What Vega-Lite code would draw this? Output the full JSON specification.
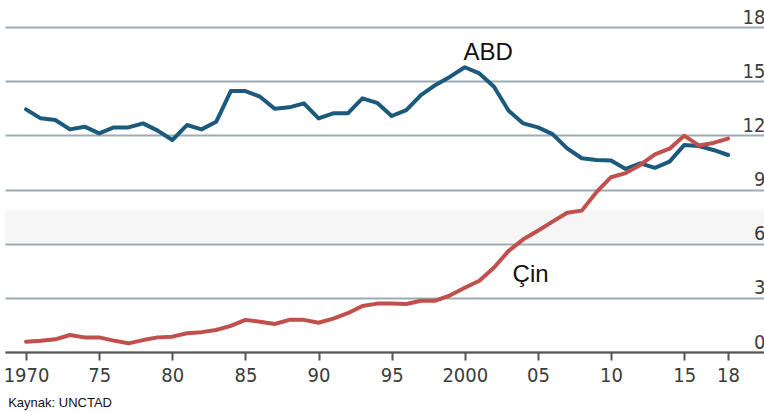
{
  "$schema": "https://vega.github.io/schema/vega-lite/v6.json",
  "width": 759,
  "height": 325,
  "autosize": {"type": "none"},
  "padding": {"left": 5, "top": 27, "right": 0, "bottom": 59},
  "background": "white",
  "config": {"view": {"stroke": null}},
  "title": {"text": "Kaynak: UNCTAD", "orient": "bottom", "anchor": "start", "font": "Liberation Sans", "fontSize": 13, "fontWeight": "normal", "color": "#111", "offset": 12, "dx": 5},
  "datasets": {
    "series": [
      {"year":1970,"country":"ABD","value":13.44},{"year":1971,"country":"ABD","value":12.94},{"year":1972,"country":"ABD","value":12.85},{"year":1973,"country":"ABD","value":12.33},{"year":1974,"country":"ABD","value":12.48},{"year":1975,"country":"ABD","value":12.11},{"year":1976,"country":"ABD","value":12.44},{"year":1977,"country":"ABD","value":12.44},{"year":1978,"country":"ABD","value":12.66},{"year":1979,"country":"ABD","value":12.26},
      {"year":1980,"country":"ABD","value":11.74},{"year":1981,"country":"ABD","value":12.57},{"year":1982,"country":"ABD","value":12.33},{"year":1983,"country":"ABD","value":12.75},{"year":1984,"country":"ABD","value":14.45},{"year":1985,"country":"ABD","value":14.45},{"year":1986,"country":"ABD","value":14.14},{"year":1987,"country":"ABD","value":13.47},{"year":1988,"country":"ABD","value":13.55},{"year":1989,"country":"ABD","value":13.77},
      {"year":1990,"country":"ABD","value":12.94},{"year":1991,"country":"ABD","value":13.22},{"year":1992,"country":"ABD","value":13.22},{"year":1993,"country":"ABD","value":14.05},{"year":1994,"country":"ABD","value":13.8},{"year":1995,"country":"ABD","value":13.07},{"year":1996,"country":"ABD","value":13.4},{"year":1997,"country":"ABD","value":14.23},{"year":1998,"country":"ABD","value":14.79},{"year":1999,"country":"ABD","value":15.25},
      {"year":2000,"country":"ABD","value":15.77},{"year":2001,"country":"ABD","value":15.43},{"year":2002,"country":"ABD","value":14.69},{"year":2003,"country":"ABD","value":13.36},{"year":2004,"country":"ABD","value":12.66},{"year":2005,"country":"ABD","value":12.44},{"year":2006,"country":"ABD","value":12.07},{"year":2007,"country":"ABD","value":11.28},{"year":2008,"country":"ABD","value":10.73},{"year":2009,"country":"ABD","value":10.63},
      {"year":2010,"country":"ABD","value":10.6},{"year":2011,"country":"ABD","value":10.14},{"year":2012,"country":"ABD","value":10.45},{"year":2013,"country":"ABD","value":10.2},{"year":2014,"country":"ABD","value":10.54},{"year":2015,"country":"ABD","value":11.46},{"year":2016,"country":"ABD","value":11.41},{"year":2017,"country":"ABD","value":11.19},{"year":2018,"country":"ABD","value":10.91},
      {"year":1970,"country":"Çin","value":0.57},{"year":1971,"country":"Çin","value":0.62},{"year":1972,"country":"Çin","value":0.7},{"year":1973,"country":"Çin","value":0.94},{"year":1974,"country":"Çin","value":0.81},{"year":1975,"country":"Çin","value":0.81},{"year":1976,"country":"Çin","value":0.63},{"year":1977,"country":"Çin","value":0.48},{"year":1978,"country":"Çin","value":0.66},{"year":1979,"country":"Çin","value":0.81},
      {"year":1980,"country":"Çin","value":0.85},{"year":1981,"country":"Çin","value":1.04},{"year":1982,"country":"Çin","value":1.1},{"year":1983,"country":"Çin","value":1.22},{"year":1984,"country":"Çin","value":1.45},{"year":1985,"country":"Çin","value":1.78},{"year":1986,"country":"Çin","value":1.68},{"year":1987,"country":"Çin","value":1.55},{"year":1988,"country":"Çin","value":1.78},{"year":1989,"country":"Çin","value":1.78},
      {"year":1990,"country":"Çin","value":1.62},{"year":1991,"country":"Çin","value":1.85},{"year":1992,"country":"Çin","value":2.15},{"year":1993,"country":"Çin","value":2.55},{"year":1994,"country":"Çin","value":2.68},{"year":1995,"country":"Çin","value":2.68},{"year":1996,"country":"Çin","value":2.66},{"year":1997,"country":"Çin","value":2.84},{"year":1998,"country":"Çin","value":2.84},{"year":1999,"country":"Çin","value":3.14},
      {"year":2000,"country":"Çin","value":3.56},{"year":2001,"country":"Çin","value":3.95},{"year":2002,"country":"Çin","value":4.68},{"year":2003,"country":"Çin","value":5.6},{"year":2004,"country":"Çin","value":6.24},{"year":2005,"country":"Çin","value":6.72},{"year":2006,"country":"Çin","value":7.22},{"year":2007,"country":"Çin","value":7.71},{"year":2008,"country":"Çin","value":7.83},{"year":2009,"country":"Çin","value":8.85},
      {"year":2010,"country":"Çin","value":9.68},{"year":2011,"country":"Çin","value":9.91},{"year":2012,"country":"Çin","value":10.36},{"year":2013,"country":"Çin","value":10.95},{"year":2014,"country":"Çin","value":11.26},{"year":2015,"country":"Çin","value":11.98},{"year":2016,"country":"Çin","value":11.44},{"year":2017,"country":"Çin","value":11.58},{"year":2018,"country":"Çin","value":11.82}
    ],
    "labels": [
      {"year": 2001.6, "value": 16.17, "label": "ABD"},
      {"year": 2004.5, "value": 3.88, "label": "Çin"}
    ],
    "band": [{"y1": 6.05, "y2": 7.85}]
  },
  "encoding": {
    "x": {
      "field": "year", "type": "quantitative",
      "scale": {"domain": [1968.56, 2020.46], "nice": false, "zero": false},
      "axis": {
        "title": null, "orient": "bottom", "grid": false,
        "values": [1970, 1975, 1980, 1985, 1990, 1995, 2000, 2005, 2010, 2015, 2018],
        "labelExpr": "datum.value == 1970 || datum.value == 2000 ? '' + datum.value : substring('' + datum.value, 2)",
        "domainColor": "#555555", "domainWidth": 2,
        "tickColor": "#555555", "tickWidth": 2, "tickSize": 8,
        "labelFont": "Liberation Sans Narrow, DejaVu Sans Condensed, sans-serif", "labelFontSize": 20, "labelColor": "#3c3c3c",
        "labelPadding": 5, "labelFlush": false, "labelOverlap": false
      }
    },
    "y": {
      "field": "value", "type": "quantitative",
      "scale": {"domain": [0, 18], "nice": false, "zero": true},
      "axis": {
        "title": null, "orient": "right", "grid": true,
        "values": [0, 3, 6, 9, 12, 15, 18],
        "gridColor": "#9dabb4", "gridWidth": 2, "gridOpacity": 1,
        "domain": false, "ticks": false, "tickSize": 0,
        "labelAlign": "right", "labelBaseline": "alphabetic", "labelPadding": 1, "labelOffset": -4,
        "labelFont": "Liberation Sans Narrow, DejaVu Sans Condensed, sans-serif", "labelFontSize": 20, "labelColor": "#3c3c3c",
        "labelFlush": false, "labelOverlap": false
      }
    }
  },
  "layer": [
    {
      "data": {"name": "band"},
      "mark": {"type": "rect", "color": "#000000", "opacity": 0.035},
      "encoding": {
        "x": null,
        "y": {"field": "y1", "type": "quantitative"},
        "y2": {"field": "y2"}
      }
    },
    {
      "data": {"name": "series"},
      "mark": {"type": "line", "strokeWidth": 4, "strokeJoin": "round", "strokeCap": "round"},
      "encoding": {
        "color": {"field": "country", "type": "nominal", "scale": {"domain": ["ABD", "Çin"], "range": ["#1b5a7d", "#c1504d"]}, "legend": null}
      }
    },
    {
      "data": {"name": "labels"},
      "mark": {"type": "text", "font": "Liberation Sans", "fontSize": 24, "color": "#111111", "baseline": "alphabetic", "align": "center"},
      "encoding": {
        "text": {"field": "label"}
      }
    }
  ]
}
